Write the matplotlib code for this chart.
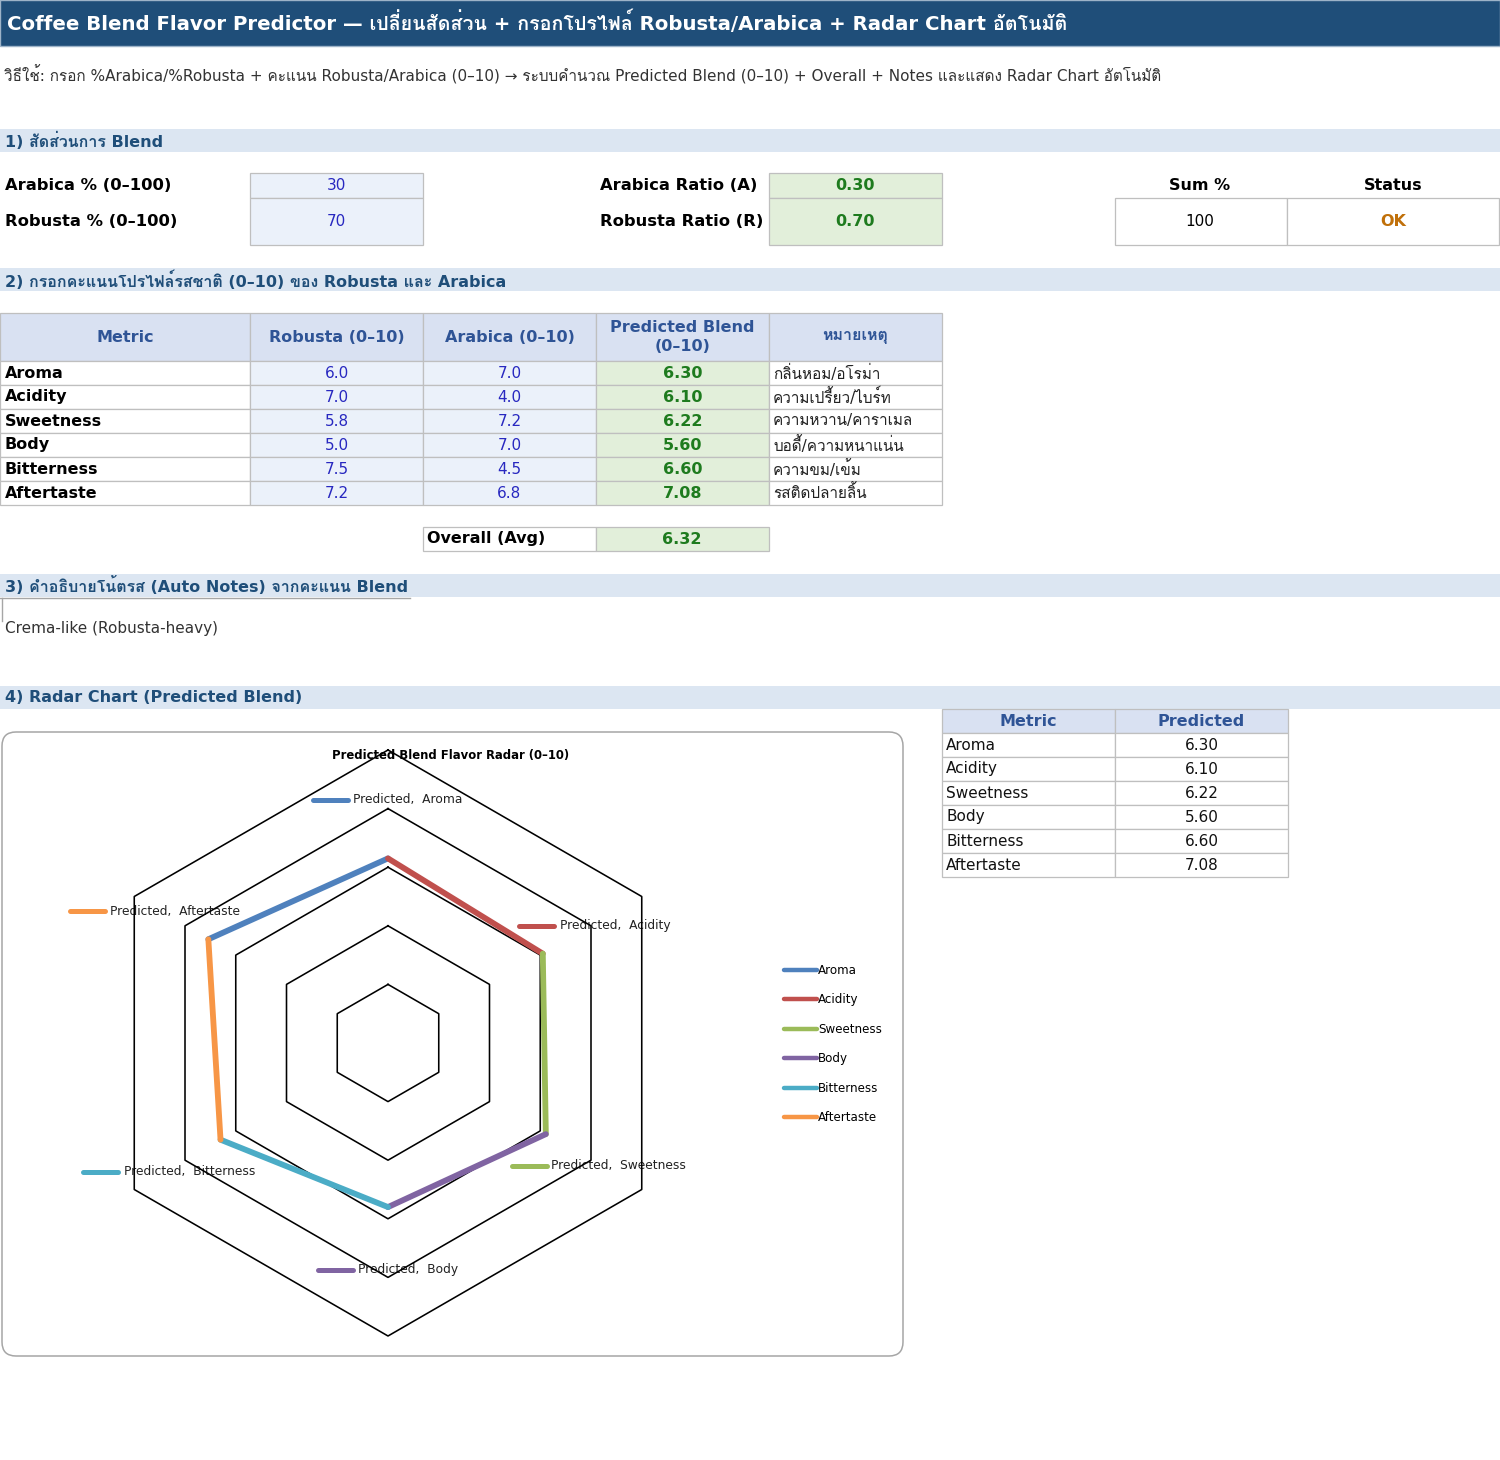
import numpy as np
import matplotlib
matplotlib.use("Agg")
import matplotlib.pyplot as plt
from matplotlib import font_manager
from matplotlib.patches import Rectangle, FancyBboxPatch

# fonts: DejaVu for latin, a Thai family as fallback for the Thai glyphs
installed = {f.name for f in font_manager.fontManager.ttflist}
thai_font = next((n for n in ["Tahoma", "Loma", "Noto Sans Thai Looped",
                              "Noto Sans Thai", "Sarabun", "Garuda"] if n in installed), None)
FAMILY = ["DejaVu Sans"] + ([thai_font] if thai_font else [])
plt.rcParams["font.family"] = FAMILY

# ---- data ----
title = "Coffee Blend Flavor Predictor — เปลี่ยนสัดส่วน + กรอกโปรไฟล์ Robusta/Arabica + Radar Chart อัตโนมัติ"
subtitle = ("วิธีใช้: กรอก %Arabica/%Robusta + คะแนน Robusta/Arabica (0–10) → ระบบคำนวณ "
            "Predicted Blend (0–10) + Overall + Notes และแสดง Radar Chart อัตโนมัติ")
sections = ["1) สัดส่วนการ Blend",
            "2) กรอกคะแนนโปรไฟล์รสชาติ (0–10) ของ Robusta และ Arabica",
            "3) คำอธิบายโน้ตรส (Auto Notes) จากคะแนน Blend",
            "4) Radar Chart (Predicted Blend)"]

arabica_pct = 30
robusta_pct = 70
arabica_ratio = 0.30
robusta_ratio = 0.70
sum_pct = 100
status = "OK"

metrics = ["Aroma", "Acidity", "Sweetness", "Body", "Bitterness", "Aftertaste"]
robusta = [6.0, 7.0, 5.8, 5.0, 7.5, 7.2]
arabica = [7.0, 4.0, 7.2, 7.0, 4.5, 6.8]
predicted = [6.30, 6.10, 6.22, 5.60, 6.60, 7.08]
notes = ["กลิ่นหอม/อโรม่า", "ความเปรี้ยว/ไบร์ท", "ความหวาน/คาราเมล",
         "บอดี้/ความหนาแน่น", "ความขม/เข้ม", "รสติดปลายลิ้น"]
overall = 6.32
auto_note = "Crema-like (Robusta-heavy)"
table_headers = ["Metric", "Robusta (0–10)", "Arabica (0–10)", "Predicted Blend\n(0–10)", "หมายเหตุ"]

series_colors = ["#4F81BD", "#C0504D", "#9BBB59", "#8064A2", "#4BACC6", "#F79646"]

# ---- colours ----
DARK = "#1F4E79"
BAND = "#DCE6F2"
HEAD = "#D9E1F2"
INFILL = "#EBF1FA"
OUTFILL = "#E2EFDA"
BLUE_TXT = "#2828C0"
GREEN_TXT = "#1E7B1E"
GRID = "#BFBFBF"

W, H = 1500, 1460
fig = plt.figure(figsize=(W / 100, H / 100), dpi=100)
ax = fig.add_axes([0, 0, 1, 1])
ax.set_xlim(0, W)
ax.set_ylim(H, 0)
ax.axis("off")


def cell(x0, x1, y0, y1, fill="white", edge=GRID, lw=0.9):
    ax.add_patch(Rectangle((x0, y0), x1 - x0, y1 - y0, facecolor=fill,
                           edgecolor=edge, linewidth=lw))


def txt(x, y, s, ha="left", size=11, bold=False, color="black", **kw):
    return ax.text(x, y, s, ha=ha, va="center", fontsize=size,
                   fontweight="bold" if bold else "normal", color=color, **kw)


# title bar
ax.add_patch(Rectangle((0, 0), W, 46, facecolor=DARK, edgecolor="#9DB3C8", linewidth=1))
txt(7, 22, title, size=14.2, bold=True, color="white")
txt(4, 75, subtitle, size=11, color="#333333")

# section bands
band_y = [129, 268, 574, 686]
for y, s in zip(band_y, sections):
    ax.add_patch(Rectangle((0, y), W, 23, facecolor=BAND, edgecolor="none"))
    txt(5, y + 12, s, size=11.5, bold=True, color=DARK)

# ---- section 1 ----
txt(5, 186, "Arabica % (0–100)", size=11.8, bold=True)
txt(5, 222, "Robusta % (0–100)", size=11.8, bold=True)
cell(250, 423, 173, 198, INFILL)
cell(250, 423, 198, 245, INFILL)
txt(336, 186, str(arabica_pct), ha="center", color=BLUE_TXT)
txt(336, 222, str(robusta_pct), ha="center", color=BLUE_TXT)

txt(600, 186, "Arabica Ratio (A)", size=11.8, bold=True)
txt(600, 222, "Robusta Ratio (R)", size=11.8, bold=True)
cell(769, 942, 173, 198, OUTFILL)
cell(769, 942, 198, 245, OUTFILL)
txt(855, 186, f"{arabica_ratio:.2f}", ha="center", size=11.5, bold=True, color=GREEN_TXT)
txt(855, 222, f"{robusta_ratio:.2f}", ha="center", size=11.5, bold=True, color=GREEN_TXT)

txt(1200, 186, "Sum %", ha="center", size=11.5, bold=True)
txt(1393, 186, "Status", ha="center", size=11.5, bold=True)
cell(1115, 1287, 198, 245)
cell(1287, 1499, 198, 245)
txt(1200, 222, str(sum_pct), ha="center")
txt(1393, 222, status, ha="center", size=11.5, bold=True, color="#C0700A")

# ---- section 2 table ----
cols = [0, 250, 423, 596, 769, 942]
hy0, hy1 = 313, 361
rh = 24
for i, h in enumerate(table_headers):
    cell(cols[i], cols[i + 1], hy0, hy1, HEAD)
    txt((cols[i] + cols[i + 1]) / 2, (hy0 + hy1) / 2, h, ha="center", size=11.5,
        bold=True, color="#2F5496", linespacing=1.4)

for r, m in enumerate(metrics):
    y0 = hy1 + r * rh
    yc = y0 + rh / 2
    cell(cols[0], cols[1], y0, y0 + rh)
    cell(cols[1], cols[2], y0, y0 + rh, INFILL)
    cell(cols[2], cols[3], y0, y0 + rh, INFILL)
    cell(cols[3], cols[4], y0, y0 + rh, OUTFILL)
    cell(cols[4], cols[5], y0, y0 + rh)
    txt(5, yc, m, size=11.5, bold=True)
    txt((cols[1] + cols[2]) / 2, yc, f"{robusta[r]:.1f}", ha="center", color=BLUE_TXT)
    txt((cols[2] + cols[3]) / 2, yc, f"{arabica[r]:.1f}", ha="center", color=BLUE_TXT)
    txt((cols[3] + cols[4]) / 2, yc, f"{predicted[r]:.2f}", ha="center", size=11.5,
        bold=True, color=GREEN_TXT)
    txt(773, yc, notes[r], size=11, color="#222222")

cell(423, 596, 527, 551)
cell(596, 769, 527, 551, OUTFILL)
txt(427, 539, "Overall (Avg)", size=11.5, bold=True)
txt(682, 539, f"{overall:.2f}", ha="center", size=11.5, bold=True, color=GREEN_TXT)

# ---- section 3 ----
ax.plot([0, 410], [597.5, 597.5], color="#A6A6A6", lw=1)
ax.plot([1.5, 1.5], [598, 621], color="#A6A6A6", lw=1)
txt(5, 629, auto_note, color="#333333")

# ---- section 4 side table ----
scols = [942, 1115, 1288]
cell(scols[0], scols[1], 709, 733, HEAD)
cell(scols[1], scols[2], 709, 733, HEAD)
txt((scols[0] + scols[1]) / 2, 721, "Metric", ha="center", size=11.5, bold=True, color="#2F5496")
txt((scols[1] + scols[2]) / 2, 721, "Predicted", ha="center", size=11.5, bold=True, color="#2F5496")
for r, m in enumerate(metrics):
    y0 = 733 + r * rh
    cell(scols[0], scols[1], y0, y0 + rh)
    cell(scols[1], scols[2], y0, y0 + rh)
    txt(946, y0 + rh / 2, m, color="#111111")
    txt((scols[1] + scols[2]) / 2, y0 + rh / 2, f"{predicted[r]:.2f}", ha="center", color="#111111")

# chart frame
ax.add_patch(FancyBboxPatch((2, 732), 901, 624, boxstyle="round,pad=0,rounding_size=14",
                            facecolor="white", edgecolor="#A6A6A6", linewidth=1.1))
ax.text(451, 755, "Predicted Blend Flavor Radar (0–10)", ha="center", va="center",
        fontsize=8.4, fontweight="bold")

# data labels ("Predicted, <metric>") with their keys: x0, x1 of key, y, text x
label_pos = [(313, 348, 800, 353), (519, 554, 926, 560), (512, 547, 1166, 551),
             (318, 353, 1270, 358), (83, 118, 1172, 124), (70, 105, 911, 110)]
for (x0, x1, y, tx), m, c in zip(label_pos, metrics, series_colors):
    ax.plot([x0, x1], [y, y], color=c, lw=3.6, solid_capstyle="round", zorder=5)
    ax.text(tx, y, f"Predicted,  {m}", ha="left", va="center", fontsize=8.8,
            color="#222222", zorder=5)

# ---- radar ----
cx, cy, half = 388, 1043, 300
rmax = 10 * half / 293
rad = fig.add_axes([(cx - half) / W, (H - cy - half) / H, 2 * half / W, 2 * half / H])
rad.set_xlim(-rmax, rmax)
rad.set_ylim(-rmax, rmax)
rad.axis("off")
rad.patch.set_alpha(0)

n = len(metrics)
ang = np.deg2rad(90 - 360 / n * np.arange(n))
for ring in [2, 4, 6, 8, 10]:
    xs = ring * np.cos(np.append(ang, ang[0]))
    ys = ring * np.sin(np.append(ang, ang[0]))
    rad.plot(xs, ys, color="black", lw=1.15, zorder=1)

vals = np.array(predicted)
px = vals * np.cos(ang)
py = vals * np.sin(ang)
handles = []
for i in range(n):
    j = i - 1
    ln, = rad.plot([px[j], px[i]], [py[j], py[i]], color=series_colors[i], lw=4.2,
                   solid_capstyle="round", zorder=3, label=metrics[i])
    handles.append(ln)

leg = rad.legend(handles=handles, loc="upper left", bbox_to_anchor=(784 / W, 1 - 964 / H),
                 bbox_transform=fig.transFigure, frameon=False, fontsize=8.6,
                 handlelength=2.8, handletextpad=0.05, labelspacing=1.38,
                 borderpad=0, borderaxespad=0)
for lh in leg.get_lines():
    lh.set_linewidth(3.2)

fig.savefig("out.png", dpi=100)
